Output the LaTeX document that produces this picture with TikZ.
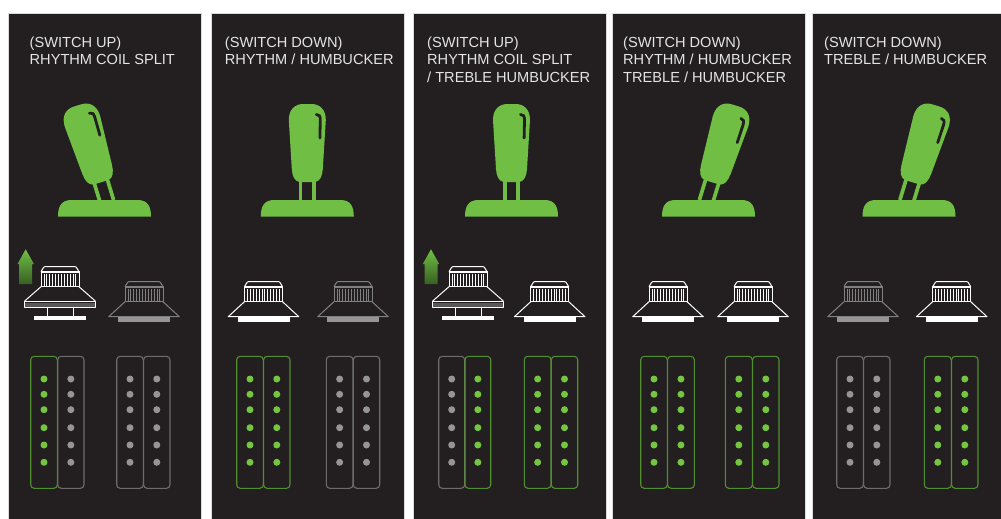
\documentclass[tikz,border=0pt]{standalone}
\usepackage{fontspec}
\setmainfont{Liberation Sans}
\definecolor{panelbg}{HTML}{231F20}
\definecolor{levergreen}{HTML}{70BF44}
\definecolor{coilgreen}{HTML}{4F8F30}
\definecolor{dotgreen}{HTML}{74C53F}
\definecolor{coilgray}{HTML}{6C6C6C}
\definecolor{dotgray}{HTML}{959598}
\definecolor{labelgray}{HTML}{E4E4E5}
\tikzset{
  panel/.style={fill=panelbg,draw=black!14,line width=.5pt},
  caption/.style={anchor=north west,inner sep=0pt,align=left,text=labelgray,font=\fontsize{14.6}{17.6}\selectfont},
  pickupline/.style={line width=1pt,line join=round}
}
% lever: base centre, pivot offset, tilt, length factor
\newcommand{\swlever}[4]{%
  \fill[levergreen] (#1-46.5,216.5) .. controls (#1-46.5,206) and (#1-43,200) .. (#1-33,200) -- (#1+33,200) .. controls (#1+43,200) and (#1+46.5,206) .. (#1+46.5,216.5) -- cycle;
  \begin{scope}[shift={(#1+#2,200)},rotate=#3,yscale=#4]
    \draw[levergreen,line width=3.7pt] (-6.8,2) -- (-6.8,-22) (6.8,2) -- (6.8,-22);
    \fill[levergreen] (-8,-18) .. controls (-13,-19) and (-15,-24) .. (-15.5,-31) -- (-18.5,-80) .. controls (-18.5,-91) and (-12,-96) .. (-4,-96) -- (4,-96) .. controls (12,-96) and (18.5,-91) .. (18.5,-80) -- (15.5,-31) .. controls (15,-24) and (13,-19) .. (8,-18) -- cycle;
    \draw[panelbg,line width=2.8pt,line cap=round] (9,-85.5) .. controls (12,-85.5) and (13,-84) .. (13,-80) -- (12.6,-62);
  \end{scope}%
}
% upper body of a pickup, origin at the foot of its box
\newcommand{\pbody}[1]{%
  \draw[#1,pickupline] (-19,-15) rectangle (19,-30);
  \draw[#1,pickupline,rounded corners=.7pt] (-19,-30) -- (-16,-35) -- (16,-35) -- (19,-30);
  \draw[#1,line width=1.4pt] (-19,-29) -- (19,-29);
  \foreach \r in {-16,-13.1,...,16.1} \draw[#1,line width=1pt] (\r,-28) -- (\r,-15);
}
\newcommand{\pkup}[3]{% centre, line colour, bar colour
  \begin{scope}[shift={(#1,316.7)}]
    \pbody{#2}
    \draw[#2,pickupline] (-19,-15) -- (-35.3,0) -- (35.3,0) -- (19,-15);
    \fill[#3] (-26,0) rectangle (26,5);
  \end{scope}%
}
\newcommand{\splitpkup}[1]{%
  \begin{scope}[shift={(#1,301.7)}]
    \pbody{white}
    \draw[white,pickupline] (-19,-15) -- (-35.3,-0.7);
    \draw[white,pickupline] (19,-15) -- (35.3,-0.7);
    \fill[black!65] (-35.3,1.5) rectangle (35.3,5.5);
    \draw[white,pickupline] (-35.3,-0.7) rectangle (35.3,5.5);
    \draw[white,line width=1pt] (-13,5.5) -- (-13,15) (13,5.5) -- (13,15);
    \fill[white] (-26,14.3) rectangle (26,18.3);
  \end{scope}%
}
\newcommand{\liftarrow}[1]{%
  \shade[top color=levergreen,bottom color=levergreen!50!black] (#1,249.3) -- (#1+8.2,264) -- (#1+6.5,264) -- (#1+6.5,284) -- (#1-6.5,284) -- (#1-6.5,264) -- (#1-8.2,264) -- cycle;
}
% one coil of a pickup: left, right, frame colour, dot colour
\newcommand{\coil}[4]{%
  \draw[#3,line width=1.1pt,rounded corners=3.5pt] (#1,356.3) rectangle (#2,488.3);
  \foreach \d in {379,394.3,409.7,427.7,445,462.3}
    \fill[#4] ({(#1+#2)/2},\d) circle (3.5);
}
\begin{document}
\begin{tikzpicture}[x=1pt,y=-1pt]
\useasboundingbox (0,0) rectangle (1001,519);
\fill[white] (0,0) rectangle (1001,519);
% panels
\draw[panel] (8,13) rectangle (201,520);
\draw[panel] (211,13) rectangle (404,520);
\draw[panel] (413.3,13) rectangle (606,520);
\draw[panel] (612.5,13) rectangle (805.5,520);
\draw[panel] (812.5,13) rectangle (1002,520);
% captions
\node[caption] (t1) at (29.5,36.5) {(SWITCH UP)\\RHYTHM COIL SPLIT};
\node[caption] (t2) at (224.7,36.5) {(SWITCH DOWN)\\RHYTHM / HUMBUCKER};
\node[caption] (t3) at (427,36.5) {(SWITCH UP)\\RHYTHM COIL SPLIT\\/ TREBLE HUMBUCKER};
\node[caption] (t4) at (623,36.5) {(SWITCH DOWN)\\RHYTHM / HUMBUCKER\\TREBLE / HUMBUCKER};
\node[caption] (t5) at (824,36.5) {(SWITCH DOWN)\\TREBLE / HUMBUCKER};
% levers
\swlever{104.5}{2}{17}{1.03}
\swlever{307.3}{0}{0}{1}
\swlever{511.5}{0}{0}{1}
\swlever{708.5}{-2}{-17}{1.03}
\swlever{909}{-2}{-17}{1.03}
% pickups
\liftarrow{25.7}
\splitpkup{60}
\pkup{144}{black!50}{dotgray}
\pkup{263.5}{white}{white}
\pkup{353}{black!50}{dotgray}
\liftarrow{431}
\splitpkup{468}
\pkup{549.7}{white}{white}
\pkup{668}{white}{white}
\pkup{753}{white}{white}
\pkup{863}{black!50}{dotgray}
\pkup{951.7}{white}{white}
% coils
\coil{30.7}{57.3}{coilgreen}{dotgreen}
\coil{57.7}{84}{coilgray}{dotgray}
\coil{116.7}{143.3}{coilgray}{dotgray}
\coil{143.6}{170}{coilgray}{dotgray}
\coil{236.7}{263.3}{coilgreen}{dotgreen}
\coil{263.6}{290}{coilgreen}{dotgreen}
\coil{326.3}{353}{coilgray}{dotgray}
\coil{353.3}{379.7}{coilgray}{dotgray}
\coil{438.7}{464.7}{coilgray}{dotgray}
\coil{465}{490.7}{coilgreen}{dotgreen}
\coil{524.3}{551}{coilgreen}{dotgreen}
\coil{551.3}{577.7}{coilgreen}{dotgreen}
\coil{640.7}{667.3}{coilgreen}{dotgreen}
\coil{667.6}{694.3}{coilgreen}{dotgreen}
\coil{725.3}{752.3}{coilgreen}{dotgreen}
\coil{752.6}{779}{coilgreen}{dotgreen}
\coil{836.7}{863.3}{coilgray}{dotgray}
\coil{863.6}{890}{coilgray}{dotgray}
\coil{924.3}{951.3}{coilgreen}{dotgreen}
\coil{951.6}{978}{coilgreen}{dotgreen}
\end{tikzpicture}
\end{document}
